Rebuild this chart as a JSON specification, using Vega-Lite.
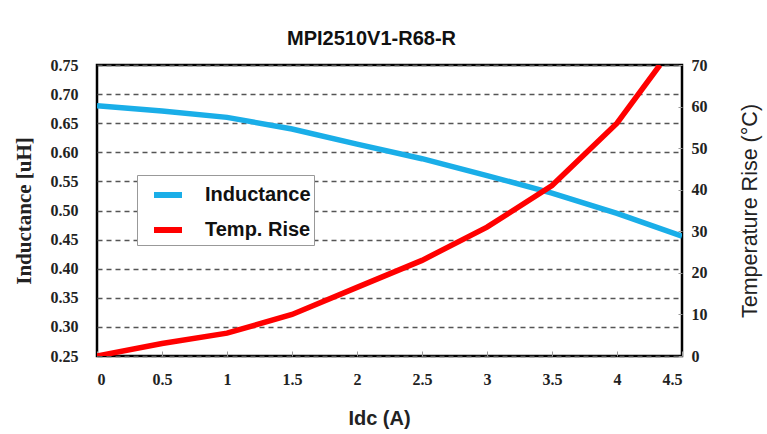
{
  "$schema": "https://vega.github.io/schema/vega-lite/v6.json",
  "width": 585,
  "height": 291,
  "autosize": {"type": "none"},
  "padding": {"left": 97, "top": 65, "right": 85, "bottom": 78},
  "background": "white",
  "title": {
    "text": "MPI2510V1-R68-R",
    "font": "Liberation Sans",
    "fontSize": 20,
    "fontWeight": "bold",
    "color": "#111",
    "anchor": "middle",
    "dx": -18,
    "offset": 8
  },
  "datasets": {
    "ind": [
      {"I": 0, "v": 0.68, "series": "Inductance"},
      {"I": 0.5, "v": 0.671, "series": "Inductance"},
      {"I": 1, "v": 0.66, "series": "Inductance"},
      {"I": 1.5, "v": 0.64, "series": "Inductance"},
      {"I": 2, "v": 0.614, "series": "Inductance"},
      {"I": 2.5, "v": 0.589, "series": "Inductance"},
      {"I": 3, "v": 0.56, "series": "Inductance"},
      {"I": 3.5, "v": 0.53, "series": "Inductance"},
      {"I": 4, "v": 0.495, "series": "Inductance"},
      {"I": 4.5, "v": 0.456, "series": "Inductance"}
    ],
    "temp": [
      {"I": 0, "v": 0, "series": "Temp. Rise"},
      {"I": 0.5, "v": 3, "series": "Temp. Rise"},
      {"I": 1, "v": 5.5, "series": "Temp. Rise"},
      {"I": 1.5, "v": 10, "series": "Temp. Rise"},
      {"I": 2, "v": 16.5, "series": "Temp. Rise"},
      {"I": 2.5, "v": 23, "series": "Temp. Rise"},
      {"I": 3, "v": 31, "series": "Temp. Rise"},
      {"I": 3.5, "v": 41, "series": "Temp. Rise"},
      {"I": 4, "v": 56, "series": "Temp. Rise"},
      {"I": 4.33, "v": 70, "series": "Temp. Rise"}
    ]
  },
  "config": {
    "view": {"stroke": "#000", "strokeWidth": 2.5},
    "axis": {
      "labelFont": "Liberation Serif",
      "labelFontWeight": "bold",
      "labelFontSize": 16,
      "labelColor": "#222",
      "domain": false
    }
  },
  "layer": [
    {
      "data": {"name": "ind"},
      "mark": {"type": "line", "strokeWidth": 5.5, "clip": true},
      "encoding": {
        "x": {
          "field": "I",
          "type": "quantitative",
          "scale": {"domain": [0, 4.5], "nice": false},
          "axis": {
            "values": [0, 0.5, 1, 1.5, 2, 2.5, 3, 3.5, 4, 4.5],
            "format": "~g",
            "grid": false,
            "ticks": true,
            "tickSize": -5,
            "tickColor": "#999",
            "labelPadding": 20,
            "title": "Idc (A)",
            "titleFont": "Liberation Sans",
            "titleFontSize": 20,
            "titleFontWeight": "bold",
            "titleColor": "#222",
            "titlePadding": 21,
            "titleX": 282
          }
        },
        "y": {
          "field": "v",
          "type": "quantitative",
          "scale": {"domain": [0.25, 0.75], "nice": false, "zero": false},
          "axis": {
            "values": [0.25, 0.3, 0.35, 0.4, 0.45, 0.5, 0.55, 0.6, 0.65, 0.7, 0.75],
            "format": ".2f",
            "ticks": false,
            "labelPadding": 19,
            "grid": true,
            "gridColor": "#555",
            "gridDash": [5, 4],
            "gridWidth": 1.5,
            "title": "Inductance [uH]",
            "titleFont": "Liberation Serif",
            "titleFontSize": 21,
            "titleFontWeight": "bold",
            "titleColor": "#222",
            "titlePadding": 16
          }
        },
        "color": {
          "field": "series",
          "type": "nominal",
          "scale": {"domain": ["Inductance", "Temp. Rise"], "range": ["#1aaee8", "#ff0000"]},
          "legend": {
            "title": null,
            "orient": "none",
            "legendX": 40,
            "legendY": 110,
            "symbolType": "stroke",
            "symbolSize": 784,
            "symbolStrokeWidth": 6,
            "symbolOffset": 11,
            "labelFont": "Liberation Sans",
            "labelFontSize": 20,
            "labelFontWeight": "bold",
            "labelColor": "#111",
            "labelOffset": 20,
            "rowPadding": 6,
            "padding": 3,
            "fillColor": "white",
            "strokeColor": "#999",
            "labelLimit": 300
          }
        }
      }
    },
    {
      "data": {"name": "temp"},
      "mark": {"type": "line", "strokeWidth": 5.5, "clip": true},
      "encoding": {
        "x": {"field": "I", "type": "quantitative"},
        "y": {
          "field": "v",
          "type": "quantitative",
          "scale": {"domain": [0, 70], "nice": false},
          "axis": {
            "orient": "right",
            "values": [0, 10, 20, 30, 40, 50, 60, 70],
            "grid": false,
            "ticks": true,
            "tickSize": -4,
            "tickColor": "#999",
            "labelPadding": 13,
            "title": "Temperature Rise (°C)",
            "titleFont": "Liberation Sans",
            "titleFontSize": 21.5,
            "titleFontWeight": "normal",
            "titleColor": "#222",
            "titleAngle": 270,
            "titlePadding": 54
          }
        },
        "color": {"field": "series", "type": "nominal"}
      }
    }
  ],
  "resolve": {"scale": {"y": "independent"}}
}
